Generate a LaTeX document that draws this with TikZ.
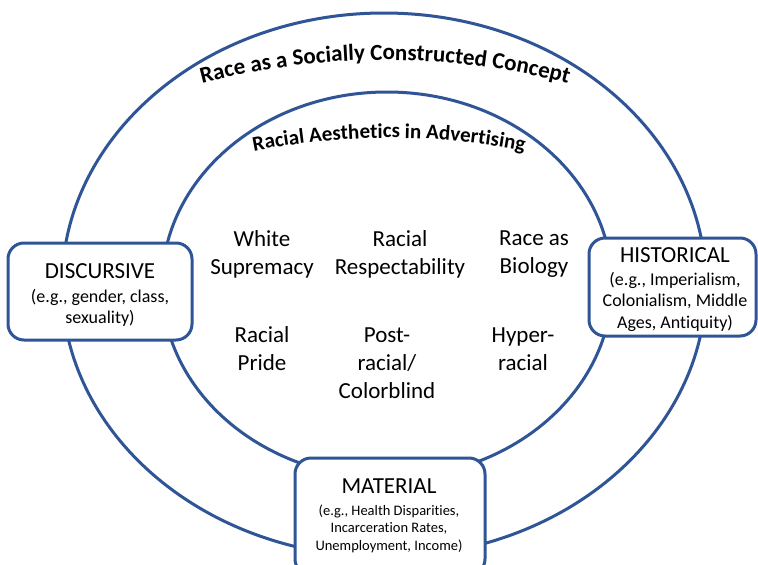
\documentclass[tikz,border=0pt]{standalone}
\usepackage{fontspec}
\setmainfont{Carlito}[Ligatures=NoCommon]
\usetikzlibrary{decorations.text}
\definecolor{ringblue}{RGB}{47,85,151}
\begin{document}
\begin{tikzpicture}[x=1pt,y=-1pt,
  ring/.style={draw=ringblue, line width=3pt},
  facet/.style={draw=ringblue, line width=3pt, fill=white, rounded corners=16pt,
    inner sep=0pt, outer sep=0pt},
  term/.style={align=center, inner sep=0pt, font=\fontsize{23}{28}\selectfont},
  facettitle/.style={anchor=base, inner sep=0pt, font=\fontsize{23}{26}\selectfont},
  facetnote/.style={align=center, inner sep=0pt, font=\fontsize{18}{21.5}\selectfont},
  smallnote/.style={align=center, inner sep=0pt, font=\fontsize{14.5}{17.5}\selectfont},
]
\useasboundingbox (0,0) rectangle (758,565);
\fill[white] (0,0) rectangle (758,565);

% the two rings
\draw[ring] (384,285) ellipse [x radius=322, y radius=272];
\draw[ring] (387,285) ellipse [x radius=225, y radius=193];

% arched headings
\coordinate (oa) at (186.5,87.9);
\coordinate (ob) at (583.5,87.9);
\path[decorate, decoration={text along path, text align=center,
  text={|\fontsize{23}{23}\bfseries\selectfont|Race as a Socially Constructed Concept}}]
  (oa) .. controls (316.2,50.7) and (453.8,50.7) .. (ob);
\coordinate (ia) at (231.5,155.9);
\coordinate (ib) at (546.5,155.9);
\path[decorate, decoration={text along path, text align=center,
  text={|\fontsize{21}{21}\bfseries\selectfont|Racial Aesthetics in Advertising}}]
  (ia) .. controls (335.1,132) and (442.9,132) .. (ib);

% six aesthetics inside the inner ring
\node[term] (ws) at (262,254) {White\\Supremacy};
\node[term] (rr) at (400,254) {Racial\\Respectability};
\node[term] (rb) at (534,254) {Race as\\Biology};
\node[term] (rp) at (262,348.5) {Racial\\Pride};
\node[term] (pr) at (387,363) {Post-\\racial/\\Colorblind};
\node[term] (hr) at (523,349.5) {Hyper-\\racial};

% facet boxes on the outer ring
\node[facet, minimum width=184pt, minimum height=97pt] (disc) at (100,291.5) {};
\node[facettitle] (disct) at (100,278) {DISCURSIVE};
\node[facetnote] (discn) at (100,308) {(e.g., gender, class,\\sexuality)};

\node[facet, minimum width=167pt, minimum height=98pt] (hist) at (672.5,287) {};
\node[facettitle] (histt) at (675,262) {HISTORICAL};
\node[facetnote] (histn) at (675,301.5) {(e.g., Imperialism,\\Colonialism, Middle\\Ages, Antiquity)};

\node[facet, minimum width=190pt, minimum height=117pt] (mat) at (390,516.5) {};
\node[facettitle] (matt) at (389,493) {MATERIAL};
\node[smallnote] (matn) at (389,528.5) {(e.g., Health Disparities,\\Incarceration Rates,\\Unemployment, Income)};
\end{tikzpicture}
\end{document}
